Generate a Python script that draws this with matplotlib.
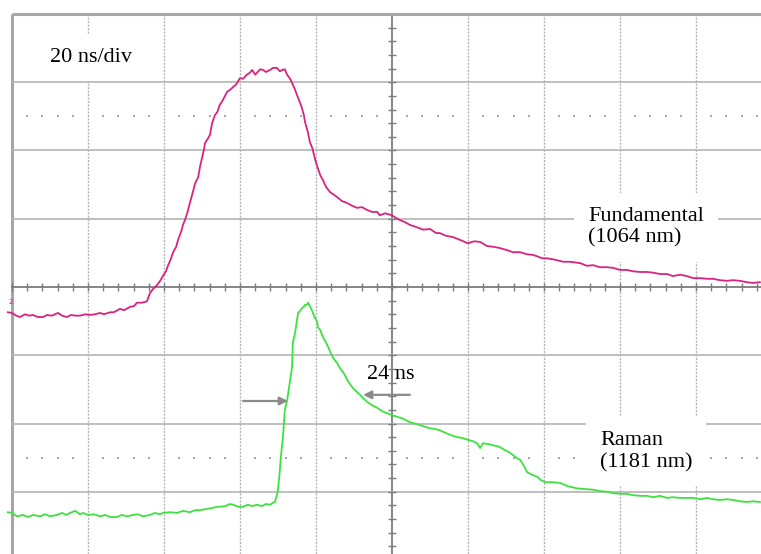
import matplotlib
matplotlib.use("Agg")
import matplotlib.pyplot as plt
import numpy as np

# Time base 20 ns/div, vertical scale in screen divisions
time_per_div = 20.0
x_divs = [0, 1, 2, 3, 4, 5, 6, 7, 8, 9]
y_divs = [4, 3, 2, 1, 0, -1, -2, -3]

# Fundamental (1064 nm) trace: (time in ns, level in div)
fundamental = [
    (-1.1, -0.37), (0.0, -0.38), (1.1, -0.42), (2.1, -0.44), (3.4, -0.40), (4.5, -0.42),
    (5.5, -0.41), (6.8, -0.44), (8.2, -0.44), (9.2, -0.41), (10.5, -0.42), (12.1, -0.38),
    (13.2, -0.42), (14.5, -0.44), (15.5, -0.41), (16.8, -0.42), (17.9, -0.42), (19.2, -0.40),
    (20.5, -0.41), (21.8, -0.40), (23.2, -0.38), (24.2, -0.40), (25.8, -0.37), (26.8, -0.37),
    (28.4, -0.32), (29.5, -0.34), (31.1, -0.29), (32.1, -0.28), (32.9, -0.23), (34.2, -0.23),
    (35.5, -0.21), (36.3, -0.09), (37.1, -0.03), (38.2, 0.03), (39.0, 0.09), (39.7, 0.16),
    (40.5, 0.23), (41.1, 0.32), (41.8, 0.41), (42.4, 0.51), (43.2, 0.59), (43.7, 0.69),
    (44.5, 0.81), (45.0, 0.91), (45.5, 0.98), (46.1, 1.08), (46.8, 1.23), (47.4, 1.35),
    (48.2, 1.52), (49.0, 1.61), (49.5, 1.77), (50.0, 1.89), (50.5, 2.01), (50.8, 2.11),
    (51.6, 2.18), (52.1, 2.23), (52.6, 2.39), (53.4, 2.52), (54.0, 2.56), (54.7, 2.67),
    (55.5, 2.74), (56.6, 2.86), (57.4, 2.89), (58.2, 2.93), (59.0, 2.97), (60.0, 3.06),
    (60.8, 3.05), (61.8, 3.11), (62.6, 3.14), (63.2, 3.18), (64.0, 3.11), (64.5, 3.14),
    (65.3, 3.19), (66.1, 3.18), (66.8, 3.15), (67.9, 3.18), (68.7, 3.21), (69.7, 3.21),
    (70.5, 3.16), (71.1, 3.18), (71.8, 3.19), (72.4, 3.11), (73.2, 3.05), (73.7, 2.99),
    (74.5, 2.89), (75.0, 2.81), (75.8, 2.70), (76.3, 2.62), (76.8, 2.52), (77.1, 2.42),
    (77.9, 2.26), (78.4, 2.12), (79.0, 2.04), (79.5, 1.93), (80.0, 1.82), (80.5, 1.74),
    (81.1, 1.64), (81.8, 1.57), (82.6, 1.47), (83.7, 1.39), (84.5, 1.36), (85.5, 1.32),
    (86.8, 1.26), (88.2, 1.23), (89.5, 1.19), (90.8, 1.16), (92.1, 1.17), (93.4, 1.13),
    (94.7, 1.10), (96.1, 1.10), (96.8, 1.05), (98.2, 1.08), (100.0, 1.05), (101.1, 1.01),
    (102.1, 0.98), (103.4, 0.95), (104.7, 0.91), (106.3, 0.88), (108.2, 0.84), (110.0, 0.85),
    (111.6, 0.79), (112.6, 0.79), (114.2, 0.75), (116.1, 0.73), (117.9, 0.69), (120.0, 0.64),
    (121.6, 0.67), (123.2, 0.66), (125.0, 0.60), (126.6, 0.59), (128.4, 0.57), (130.3, 0.54),
    (131.8, 0.51), (133.7, 0.51), (135.5, 0.48), (137.1, 0.47), (138.2, 0.45), (139.5, 0.42),
    (140.8, 0.42), (142.9, 0.40), (145.0, 0.37), (146.8, 0.37), (149.5, 0.35), (151.3, 0.31),
    (152.9, 0.32), (154.7, 0.29), (156.6, 0.29), (158.2, 0.28), (160.0, 0.25), (161.8, 0.25),
    (163.4, 0.23), (165.3, 0.22), (167.1, 0.22), (168.7, 0.21), (170.5, 0.19), (172.4, 0.19),
    (173.9, 0.16), (175.8, 0.18), (177.6, 0.16), (179.2, 0.13), (181.1, 0.13), (182.9, 0.12),
    (184.5, 0.12), (186.3, 0.10), (188.2, 0.09), (189.7, 0.10), (191.6, 0.09), (193.4, 0.07),
    (195.0, 0.06), (196.8, 0.07),
]

# Raman (1181 nm) trace: (time in ns, level in div)
raman = [
    (-1.1, -3.30), (0.0, -3.31), (1.3, -3.36), (2.9, -3.34), (4.2, -3.37), (5.5, -3.34),
    (7.4, -3.36), (8.7, -3.33), (10.0, -3.36), (11.8, -3.34), (13.2, -3.31), (14.2, -3.34),
    (15.3, -3.31), (16.6, -3.28), (17.9, -3.33), (18.7, -3.31), (20.0, -3.34), (21.6, -3.33),
    (23.2, -3.36), (24.5, -3.34), (25.8, -3.37), (27.6, -3.37), (28.9, -3.34), (30.3, -3.36),
    (31.8, -3.34), (33.2, -3.33), (34.5, -3.36), (36.3, -3.34), (37.6, -3.31), (38.9, -3.33),
    (39.7, -3.31), (41.6, -3.30), (43.4, -3.31), (45.0, -3.28), (46.8, -3.30), (48.2, -3.27),
    (49.5, -3.27), (51.3, -3.25), (52.6, -3.24), (53.9, -3.22), (54.7, -3.22), (56.1, -3.21),
    (57.4, -3.18), (58.2, -3.19), (59.5, -3.22), (60.8, -3.22), (62.1, -3.19), (63.2, -3.21),
    (64.5, -3.19), (65.8, -3.21), (66.8, -3.18), (67.9, -3.19), (68.7, -3.16), (69.2, -3.15),
    (69.7, -3.05), (70.0, -2.97), (70.5, -2.68), (70.8, -2.46), (71.3, -2.20), (71.8, -1.80),
    (72.4, -1.66), (72.9, -1.47), (73.2, -1.36), (73.7, -1.17), (73.9, -0.82), (74.5, -0.67),
    (75.0, -0.48), (75.3, -0.38), (75.8, -0.35), (76.3, -0.31), (76.8, -0.29), (77.1, -0.26),
    (77.6, -0.26), (77.9, -0.23), (78.4, -0.28), (78.9, -0.34), (79.2, -0.38), (79.7, -0.45),
    (80.3, -0.51), (80.5, -0.59), (81.1, -0.63), (81.8, -0.73), (82.6, -0.81), (83.2, -0.88),
    (83.9, -0.97), (84.5, -1.04), (85.5, -1.11), (86.3, -1.19), (87.4, -1.27), (88.2, -1.36),
    (88.9, -1.42), (89.7, -1.48), (90.8, -1.54), (91.6, -1.58), (92.6, -1.64), (93.4, -1.68),
    (94.7, -1.73), (96.1, -1.77), (97.4, -1.82), (98.7, -1.85), (100.0, -1.88), (101.3, -1.90),
    (102.9, -1.93), (104.7, -1.98), (106.6, -2.01), (108.2, -2.04), (110.0, -2.07), (111.3, -2.08),
    (112.6, -2.10), (114.2, -2.14), (115.5, -2.17), (117.1, -2.20), (118.4, -2.21), (120.0, -2.24),
    (121.3, -2.26), (122.4, -2.29), (123.2, -2.36), (123.9, -2.29), (125.3, -2.30), (126.6, -2.32),
    (128.2, -2.34), (129.7, -2.39), (130.8, -2.42), (131.8, -2.46), (132.9, -2.51), (133.7, -2.53),
    (134.7, -2.62), (135.5, -2.71), (136.8, -2.75), (138.2, -2.78), (139.2, -2.83), (140.3, -2.86),
    (142.1, -2.86), (144.2, -2.87), (146.3, -2.92), (148.7, -2.95), (150.8, -2.96), (152.9, -2.97),
    (154.7, -2.99), (156.6, -3.00), (158.2, -3.02), (160.0, -3.03), (161.8, -3.03), (163.4, -3.05),
    (165.3, -3.06), (167.1, -3.06), (168.7, -3.08), (170.5, -3.06), (172.4, -3.09), (173.9, -3.08),
    (175.8, -3.09), (177.6, -3.09), (179.2, -3.09), (181.1, -3.11), (182.9, -3.09), (184.5, -3.11),
    (186.3, -3.12), (188.2, -3.11), (189.7, -3.12), (191.6, -3.14), (193.4, -3.15), (195.0, -3.14),
    (196.8, -3.15),
]

# Pulse-width markers on the Raman trace (ns, div)
width_left_arrow = ((60.8, -1.67), (72.6, -1.67))
width_right_arrow = ((104.7, -1.58), (92.4, -1.58))

labels = {
    "timebase": "20 ns/div",
    "fund": "Fundamental\n(1064 nm)",
    "raman": "Raman\n(1181 nm)",
    "width": "24 ns",
}

FUND_COLOR = "#d9237f"
RAMAN_COLOR = "#3ee23e"
GRID = "#b4b4b4"
FRAME = "#a6a6a6"
AXIS = "#7c7c7c"
SERIF = ["Liberation Serif", "DejaVu Serif"]
FS = 16

fig = plt.figure(figsize=(7.61, 5.54), dpi=100)
ax = fig.add_axes([0, 0, 1, 1])
ax.set_xlim(-3.16, 197.1)
ax.set_ylim(-3.912, 4.205)
ax.axis("off")

center_t = 5 * time_per_div
ymin, ymax = ax.get_ylim()
xmin, xmax = ax.get_xlim()

# Graticule: vertical division lines
for d in x_divs:
    t = d * time_per_div
    if d == 0:
        ax.plot([t, t], [ymin, 4.0], color=FRAME, lw=2.2, zorder=1, solid_capstyle="butt")
    elif d == 5:
        ax.plot([t, t], [ymin, 4.0], color=AXIS, lw=1.3, zorder=1)
    else:
        ax.plot([t, t], [ymin, 4.0], color=GRID, lw=1.0, ls=(0, (1.5, 1.0)), zorder=1)

# Graticule: horizontal division lines
for d in y_divs:
    if d == 4:
        ax.plot([0, xmax], [d, d], color=FRAME, lw=2.2, zorder=1, solid_capstyle="butt")
    elif d == 0:
        ax.plot([0, xmax], [d, d], color=AXIS, lw=1.3, zorder=1)
    else:
        ax.plot([0, xmax], [d, d], color=GRID, lw=1.2, zorder=1)

# Minor ticks on the centre axes (every 0.2 div)
minor_t = np.arange(0, xmax, time_per_div / 5)
ax.vlines(minor_t, -0.055, 0.055, color=AXIS, lw=1.0, zorder=1)
minor_v = np.arange(-3.8, 4.0, 0.2)
ax.hlines(minor_v, center_t - 1.0, center_t + 1.0, color=AXIS, lw=1.0, zorder=1)

# Dotted rows at +/-2.5 div
dot_t = [t for t in minor_t if abs(t / time_per_div - round(t / time_per_div)) > 1e-6]
for v in (2.5, -2.5):
    ax.scatter(dot_t, [v] * len(dot_t), s=1.2, color="#a8a8a8", marker="s", lw=0, zorder=1)

# Traces
ft, fv = zip(*fundamental)
rt, rv = zip(*raman)
ax.plot(ft, fv, color=FUND_COLOR, lw=1.3, zorder=3)
ax.plot(rt, rv, color=RAMAN_COLOR, lw=1.3, zorder=3)

# Channel marker
ax.text(-0.9, -0.22, "2", color=FUND_COLOR, fontsize=5, ha="left", va="center", zorder=4)

# Width arrows
for (start, end) in (width_left_arrow, width_right_arrow):
    ax.annotate("", xy=end, xytext=start,
                arrowprops=dict(arrowstyle="-|>", color="#8a8a8a", lw=1.6,
                                mutation_scale=12, shrinkA=0, shrinkB=0),
                zorder=4)

box = dict(facecolor="white", edgecolor="none", pad=10)
ax.text(10.0, 3.30, labels["timebase"], family=SERIF, fontsize=FS, ha="left",
        va="baseline", bbox=box, zorder=2)
ax.text(151.6, 0.645, labels["fund"], family=SERIF, fontsize=FS, ha="left",
        va="baseline", linespacing=1.2, bbox=box, zorder=2)
ax.text(154.7, -2.64, labels["raman"], family=SERIF, fontsize=FS, ha="left",
        va="baseline", linespacing=1.2, bbox=box, zorder=2)
ax.text(93.4, -1.35, labels["width"], family=SERIF, fontsize=FS, ha="left",
        va="baseline", zorder=4)

fig.savefig("out.png", dpi=100, facecolor="white")
